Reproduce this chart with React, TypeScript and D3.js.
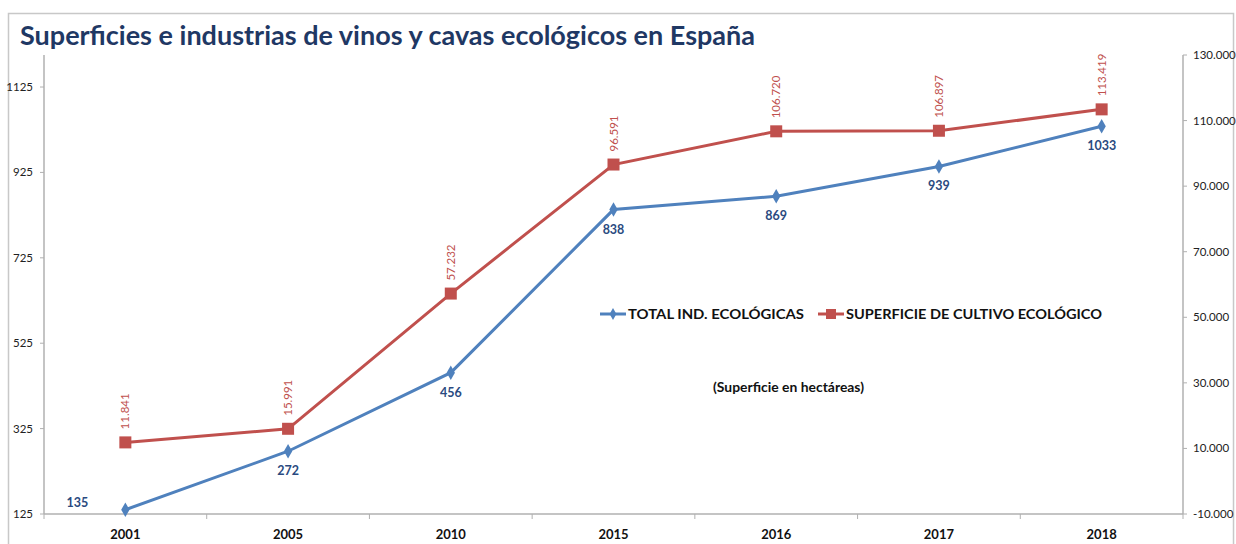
import React from "react";
import * as d3 from "d3";

const categories = ["2001", "2005", "2010", "2015", "2016", "2017", "2018"];
const industrias = [135, 272, 456, 838, 869, 939, 1033];
const superficie = [11841, 15991, 57232, 96591, 106720, 106897, 113419];
const leftTicks = [125, 325, 525, 725, 925, 1125];
const rightTicks = [-10000, 10000, 30000, 50000, 70000, 90000, 110000, 130000];

const W = 1236;
const H = 544;
const M = { left: 44, right: 1183, top: 55, bottom: 514 };
const BLUE = "#4F81BD";
const RED = "#C0504D";
const FONT = "Lato, 'Open Sans', sans-serif";

const fmtES = (v: number) => {
  const s = Math.abs(v).toString().replace(/\B(?=(\d{3})+(?!\d))/g, ".");
  return (v < 0 ? "-" : "") + s;
};

export default function App() {
  const x = d3.scaleBand<string>().domain(categories).range([M.left, M.right]).padding(0);
  const cx = (c: string) => (x(c) as number) + x.bandwidth() / 2;
  const yL = d3.scaleLinear().domain([125, 1200]).range([M.bottom, M.top]);
  const yR = d3.scaleLinear().domain([-10000, 130000]).range([M.bottom, M.top]);

  const lineL = d3
    .line<number>()
    .x((_, i) => cx(categories[i]))
    .y((d) => yL(d));
  const lineR = d3
    .line<number>()
    .x((_, i) => cx(categories[i]))
    .y((d) => yR(d));

  const diamond = d3.symbol().type(d3.symbolDiamond).size(60)();
  const boundaries = d3.range(categories.length + 1).map((i) => M.left + i * x.bandwidth());

  return (
    <svg width={W} height={H} style={{ display: "block", position: "absolute", left: 0, top: 0 }}>
      <rect x={0} y={0} width={W} height={H} fill="#fff" />
      <rect x={8.5} y={13.5} width={1225} height={560} fill="none" stroke="#c8c8c8" strokeWidth={1.5} />
      <text x={20} y={45} fontFamily={FONT} fontWeight={700} fontSize={27} fill="#1F3864">
        Superficies e industrias de vinos y cavas ecológicos en España
      </text>

      {/* axes */}
      <line x1={M.left} x2={M.left} y1={M.top} y2={M.bottom} stroke="#b0b0b0" strokeWidth={1.5} />
      <line x1={M.right} x2={M.right} y1={M.top} y2={M.bottom} stroke="#b0b0b0" strokeWidth={1.5} />
      <line x1={M.left} x2={M.right} y1={M.bottom} y2={M.bottom} stroke="#b0b0b0" strokeWidth={1.5} />
      {leftTicks.map((t) => (
        <g key={"l" + t}>
          <line x1={M.left - 4} x2={M.left} y1={yL(t)} y2={yL(t)} stroke="#b0b0b0" />
          <text x={M.left - 11} y={yL(t) + 4} textAnchor="end" fontFamily={FONT} fontSize={11.5} fill="#222">
            {t}
          </text>
        </g>
      ))}
      {rightTicks.map((t) => (
        <g key={"r" + t}>
          <line x1={M.right} x2={M.right + 4} y1={yR(t)} y2={yR(t)} stroke="#b0b0b0" />
          <text x={M.right + 10} y={yR(t) + 4} textAnchor="start" fontFamily={FONT} fontSize={11.5} fill="#222">
            {fmtES(t)}
          </text>
        </g>
      ))}
      {boundaries.map((b, i) => (
        <line key={"xt" + i} x1={b} x2={b} y1={M.bottom} y2={M.bottom + 5} stroke="#b0b0b0" />
      ))}
      {categories.map((c) => (
        <text key={"xl" + c} x={cx(c)} y={539} textAnchor="middle" fontFamily={FONT} fontWeight={700} fontSize={13} fill="#111">
          {c}
        </text>
      ))}

      {/* lines */}
      <path d={lineR(superficie) || ""} fill="none" stroke={RED} strokeWidth={3} />
      <path d={lineL(industrias) || ""} fill="none" stroke={BLUE} strokeWidth={3} />
      {superficie.map((v, i) => (
        <rect key={"rs" + i} x={cx(categories[i]) - 6} y={yR(v) - 6} width={12} height={12} fill={RED} />
      ))}
      {industrias.map((v, i) => (
        <path key={"bd" + i} d={diamond || ""} transform={`translate(${cx(categories[i])},${yL(v)})`} fill={BLUE} />
      ))}

      {/* labels */}
      {superficie.map((v, i) => (
        <text
          key={"rl" + i}
          transform={`translate(${cx(categories[i]) + 4},${yR(v) - 13}) rotate(-90)`}
          fontFamily={FONT}
          fontSize={11.5}
          fill={RED}
          textAnchor="start"
        >
          {fmtES(v)}
        </text>
      ))}
      {industrias.map((v, i) => (
        <text
          key={"bl" + i}
          x={i === 0 ? cx(categories[i]) - 48 : cx(categories[i])}
          y={i === 0 ? yL(v) - 3 : yL(v) + 24}
          textAnchor="middle"
          fontFamily={FONT}
          fontWeight={700}
          fontSize={12.5}
          fill="#2A4A80"
        >
          {v}
        </text>
      ))}

      {/* legend */}
      <g fontFamily={FONT} fontWeight={700} fontSize={14} fill="#111">
        <line x1={600} x2={626} y1={314} y2={314} stroke={BLUE} strokeWidth={3} />
        <path d={d3.symbol().type(d3.symbolDiamond).size(40)() || ""} transform="translate(613,314)" fill={BLUE} />
        <text x={628} y={319} textLength={176} lengthAdjust="spacingAndGlyphs">TOTAL IND. ECOLÓGICAS</text>
        <line x1={818} x2={844} y1={314} y2={314} stroke={RED} strokeWidth={3} />
        <rect x={826} y={309} width={10} height={10} fill={RED} />
        <text x={846} y={319} textLength={256} lengthAdjust="spacingAndGlyphs">SUPERFICIE DE CULTIVO ECOLÓGICO</text>
      </g>
      <text x={713} y={392} fontFamily={FONT} fontWeight={700} fontSize={12.5} fill="#111" textLength={151} lengthAdjust="spacingAndGlyphs">
        (Superficie en hectáreas)
      </text>
    </svg>
  );
}
